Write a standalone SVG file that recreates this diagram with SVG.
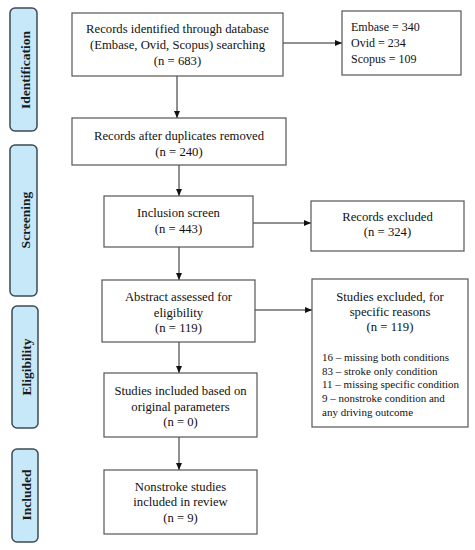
<svg xmlns="http://www.w3.org/2000/svg" width="475" height="550" viewBox="0 0 475 550">
<defs>
<marker id="ah" markerWidth="7" markerHeight="6" refX="7" refY="3" orient="auto" markerUnits="userSpaceOnUse">
<path d="M0,0 L7,3 L0,6 Z" fill="#111"/>
</marker>
</defs>
<style>
.box{fill:#fff;stroke:#555;stroke-width:1.2}
.pill{fill:#c6e8f8;stroke:#3d4a55;stroke-width:1.5}
.t{font-family:"Liberation Serif",serif;font-size:12.7px;fill:#111}
.s{font-size:12px}
.l{font-size:11px}
.c{text-anchor:middle}
.side{font-family:"Liberation Serif",serif;font-size:13.5px;font-weight:bold;fill:#1a1a1a;text-anchor:middle;dominant-baseline:central}
.ln{stroke:#222;stroke-width:1;fill:none;marker-end:url(#ah)}
</style>
<rect width="475" height="550" fill="#fff"/>
<g id="stage-identification"><rect class="pill" x="10" y="8" width="27" height="123" rx="5"/><text class="side" transform="translate(25,70) rotate(-90)">Identification</text></g>
<g id="stage-screening"><rect class="pill" x="10" y="145" width="27" height="151" rx="5"/><text class="side" transform="translate(25,220) rotate(-90)">Screening</text></g>
<g id="stage-eligibility"><rect class="pill" x="12" y="306" width="26" height="122" rx="5"/><text class="side" transform="translate(26,367) rotate(-90)">Eligibility</text></g>
<g id="stage-included"><rect class="pill" x="12" y="449" width="26" height="93" rx="5"/><text class="side" transform="translate(26,495) rotate(-90)">Included</text></g>
<g id="connectors">
<line class="ln" x1="283" y1="43" x2="342" y2="43"/>
<line class="ln" x1="177" y1="76" x2="177" y2="118"/>
<line class="ln" x1="179" y1="165" x2="179" y2="196"/>
<line class="ln" x1="253" y1="223" x2="311" y2="223"/>
<line class="ln" x1="179" y1="247" x2="179" y2="280"/>
<line class="ln" x1="255" y1="310" x2="312" y2="310"/>
<line class="ln" x1="179" y1="342" x2="179" y2="373"/>
<line class="ln" x1="179" y1="437" x2="179" y2="470"/>
</g>
<g id="records-identified"><rect class="box" x="72" y="13" width="211" height="63"/>
<text class="t c" x="177.5" y="33">Records identified through database</text>
<text class="t c" x="177.5" y="49">(Embase, Ovid, Scopus) searching</text>
<text class="t c" x="177.5" y="65">(n = 683)</text></g>
<g id="database-counts"><rect class="box" x="342" y="11" width="119" height="64"/>
<text class="t s" x="351" y="31">Embase = 340</text>
<text class="t s" x="351" y="47">Ovid = 234</text>
<text class="t s" x="351" y="63">Scopus = 109</text></g>
<g id="after-duplicates"><rect class="box" x="72" y="118" width="214" height="47"/>
<text class="t c" x="179" y="140">Records after duplicates removed</text>
<text class="t c" x="179" y="156">(n = 240)</text></g>
<g id="inclusion-screen"><rect class="box" x="104" y="196" width="149" height="51"/>
<text class="t c" x="178.5" y="217">Inclusion screen</text>
<text class="t c" x="178.5" y="233">(n = 443)</text></g>
<g id="records-excluded"><rect class="box" x="311" y="201" width="153" height="50"/>
<text class="t c" x="387.5" y="221">Records excluded</text>
<text class="t c" x="387.5" y="236">(n = 324)</text></g>
<g id="abstract-assessed"><rect class="box" x="102" y="280" width="153" height="62"/>
<text class="t c" x="178.5" y="301">Abstract assessed for</text>
<text class="t c" x="178.5" y="317">eligibility</text>
<text class="t c" x="178.5" y="332">(n = 119)</text></g>
<g id="studies-excluded"><rect class="box" x="312" y="279" width="156" height="148"/>
<text class="t c" x="390" y="301">Studies excluded, for</text>
<text class="t c" x="390" y="316">specific reasons</text>
<text class="t c" x="390" y="331">(n = 119)</text>
<text class="t l" x="322" y="361">16 – missing both conditions</text>
<text class="t l" x="322" y="375">83 – stroke only condition</text>
<text class="t l" x="322" y="388">11 – missing specific condition</text>
<text class="t l" x="322" y="402">9 – nonstroke condition and</text>
<text class="t l" x="322" y="416">any driving outcome</text></g>
<g id="studies-included"><rect class="box" x="104" y="373" width="153" height="64"/>
<text class="t c" x="180.5" y="395">Studies included based on</text>
<text class="t c" x="180.5" y="411">original parameters</text>
<text class="t c" x="180.5" y="426">(n = 0)</text></g>
<g id="nonstroke-included"><rect class="box" x="104" y="470" width="153" height="64"/>
<text class="t c" x="180.5" y="491">Nonstroke studies</text>
<text class="t c" x="180.5" y="506">included in review</text>
<text class="t c" x="180.5" y="522">(n = 9)</text></g>
</svg>
